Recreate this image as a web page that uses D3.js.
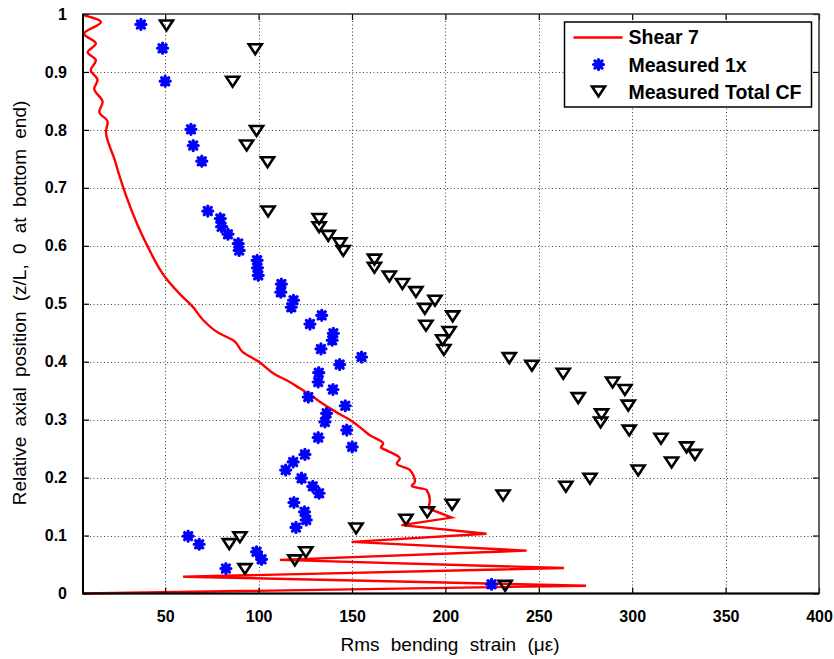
<!DOCTYPE html>
<html>
<head>
<meta charset="utf-8">
<script src="https://cdn.jsdelivr.net/npm/d3@7"></script>
<style>
    body { margin: 0; background: #fff; }
    svg { display: block; font-family: "Liberation Sans", Arial, sans-serif; }
</style>
</head>
<body>
<div id="chart"></div>
<script>
// Shear 7 prediction from top to bottom (smooth part, then the spikes)
var shearStrain = [6.1, 15.6, 6.6, 12.9, 8.5, 12.9, 10.2, 13.8, 12.0, 16.5, 14.7, 19.2, 18.3, 20.0, 22.7, 25.4,
    29.0, 35.2, 40.6, 50.4, 57.5, 64.7, 70.3, 78.9, 86.4, 91.4, 100.5, 109.3, 115, 122.1, 129.2, 135, 140,
    150.6, 155, 159.6, 166.7, 165.5, 168.5, 175.6, 174, 181, 183.7, 182, 189.9, 191.7, 190.8];
var shearPos = [0.998, 0.986, 0.966, 0.949, 0.934, 0.920, 0.903, 0.886, 0.871, 0.848, 0.831, 0.814, 0.796, 0.774, 0.751, 0.722,
    0.687, 0.636, 0.599, 0.544, 0.518, 0.495, 0.472, 0.449, 0.437, 0.417, 0.399, 0.377, 0.368, 0.354, 0.339, 0.326, 0.316,
    0.296, 0.285, 0.273, 0.259, 0.252, 0.247, 0.233, 0.224, 0.213, 0.193, 0.185, 0.179, 0.161, 0.147];
var spikeStrain = [190.8, 203.3, 176.5, 222.0, 149.8, 243.5, 111.4, 263.5, 59.6, 275.3, 6];
var spikePos = [0.147, 0.131, 0.118, 0.103, 0.089, 0.074, 0.058, 0.044, 0.029, 0.0135, 0.0];

// Measured 1x
var strain1x = [37, 48.6, 50, 63.8, 65, 69.6, 72.8, 79.5, 80.2, 83.6, 89.1, 89.6, 99.2, 99.4, 99.8, 112.2, 111.9,
    118.7, 117.5, 127.5, 133.8, 140, 139.4, 133.4, 155.1, 143.4, 132.2, 131.9, 139.8, 126.6, 146.4, 136.4, 135.5,
    147.2, 131.9, 150.1, 124.8, 118.5, 114.5, 123, 129, 132.4, 118.9, 124.6, 125.5, 120, 62.3, 68.2, 98.9, 101.6,
    82.5, 224.7];
var pos1x = [0.982, 0.941, 0.884, 0.801, 0.773, 0.746, 0.660, 0.647, 0.633, 0.620, 0.604, 0.592, 0.575, 0.562, 0.549, 0.534, 0.520,
    0.506, 0.494, 0.465, 0.480, 0.449, 0.437, 0.422, 0.408, 0.395, 0.381, 0.365, 0.352, 0.339, 0.324, 0.311, 0.296,
    0.282, 0.269, 0.253, 0.240, 0.227, 0.213, 0.199, 0.185, 0.173, 0.157, 0.141, 0.127, 0.114, 0.099, 0.085, 0.072, 0.059,
    0.043, 0.016];

// Measured Total CF
var strainCF = [50.7, 98.2, 86.1, 98.9, 93.6, 104.8, 105.1, 132.4, 132.4, 137.3, 143.5, 145.3, 162, 162, 170, 177, 184.2,
    194.4, 189, 203.9, 189.6, 202, 198.5, 199.2, 234.2, 246.3, 263.1, 289.5, 296.1, 271.1, 297.9, 283.6, 283.1, 298.4,
    315.4, 329.1, 333.6, 321.1, 303.2, 277.4, 264.5, 230.9, 203.6, 190.3, 178.9, 152.2, 90, 84.3, 125.3, 119.4, 92.7, 232];
var posCF = [0.981, 0.940, 0.884, 0.799, 0.774, 0.745, 0.660, 0.647, 0.633, 0.618, 0.605, 0.592, 0.577, 0.563, 0.548, 0.535, 0.521,
    0.506, 0.492, 0.479, 0.463, 0.452, 0.438, 0.421, 0.407, 0.394, 0.380, 0.365, 0.352, 0.338, 0.325, 0.310, 0.296, 0.282,
    0.268, 0.253, 0.240, 0.227, 0.213, 0.199, 0.185, 0.170, 0.154, 0.141, 0.128, 0.113, 0.098, 0.086, 0.072, 0.058, 0.043, 0.014];

var xTicks = [50, 100, 150, 200, 250, 300, 350, 400];
var yTicks = [0, 0.1, 0.2, 0.3, 0.4, 0.5, 0.6, 0.7, 0.8, 0.9, 1];
var yTickLabels = ["0", "0.1", "0.2", "0.3", "0.4", "0.5", "0.6", "0.7", "0.8", "0.9", "1"];

var width = 834, height = 659;
var plot = { left: 83, right: 819, top: 14, bottom: 593.5 };

var x = d3.scaleLinear().domain([6, 400]).range([plot.left, plot.right]);
var y = d3.scaleLinear().domain([0, 1]).range([plot.bottom, plot.top]);

var svg = d3.select("#chart").append("svg")
    .attr("width", width)
    .attr("height", height);

// dotted grid
var grid = svg.append("g").attr("class", "grid")
    .attr("stroke", "#444").attr("stroke-width", 1).attr("stroke-dasharray", "1,2.5");
grid.selectAll("line.gx").data(xTicks.slice(0, -1)).enter().append("line")
    .attr("x1", function(d) { return Math.round(x(d)) + 0.5; })
    .attr("x2", function(d) { return Math.round(x(d)) + 0.5; })
    .attr("y1", plot.top).attr("y2", plot.bottom);
grid.selectAll("line.gy").data(yTicks.slice(1, -1)).enter().append("line")
    .attr("y1", function(d) { return Math.round(y(d)) + 0.5; })
    .attr("y2", function(d) { return Math.round(y(d)) + 0.5; })
    .attr("x1", plot.left).attr("x2", plot.right);

// Shear 7 line: smooth upper part, sharp spikes near the bottom
var smoothLine = d3.line()
    .curve(d3.curveMonotoneY)
    .x(function(d) { return x(shearStrain[d]); })
    .y(function(d) { return y(shearPos[d]); });
var spikeLine = d3.line()
    .x(function(d) { return x(spikeStrain[d]); })
    .y(function(d) { return y(spikePos[d]); });
svg.append("path")
    .datum(d3.range(shearStrain.length))
    .attr("d", smoothLine)
    .attr("fill", "none")
    .attr("stroke", "#f00")
    .attr("stroke-width", 2.4)
    .attr("stroke-linejoin", "round");
svg.append("path")
    .datum(d3.range(spikeStrain.length))
    .attr("d", spikeLine)
    .attr("fill", "none")
    .attr("stroke", "#f00")
    .attr("stroke-width", 2.4)
    .attr("stroke-linejoin", "miter");

var starPath = "M-5,0H5M0,-5V5M-3.6,-3.6L3.6,3.6M-3.6,3.6L3.6,-3.6";
var triPath = "M-6.5,-4.5L6.5,-4.5L0,5.4Z";

svg.append("g").selectAll("path").data(d3.range(strain1x.length)).enter().append("path")
    .attr("transform", function(d) { return "translate(" + x(strain1x[d]) + "," + y(pos1x[d]) + ")"; })
    .attr("d", starPath)
    .attr("stroke", "#00f")
    .attr("stroke-width", 3.2)
    .attr("stroke-linecap", "round");

svg.append("g").selectAll("path").data(d3.range(strainCF.length)).enter().append("path")
    .attr("transform", function(d) { return "translate(" + x(strainCF[d]) + "," + y(posCF[d]) + ")"; })
    .attr("d", triPath)
    .attr("fill", "none")
    .attr("stroke", "#000")
    .attr("stroke-width", 2.6)
    .attr("stroke-linejoin", "miter");

// axes, ticks pointing inward
var axisFont = function(g) {
    g.select(".domain").remove();
    g.selectAll(".tick line").attr("stroke", "#000").attr("stroke-width", 1.2);
    g.selectAll("text")
        .attr("fill", "#000")
        .attr("font-size", "16px")
        .attr("font-weight", "bold")
        .attr("font-family", "'Liberation Sans', Arial, sans-serif");
};

svg.append("g")
    .attr("transform", "translate(0," + plot.bottom + ")")
    .call(d3.axisBottom(x).tickValues(xTicks).tickSize(-6).tickPadding(17).tickFormat(d3.format("d")))
    .call(axisFont);
svg.append("g")
    .attr("transform", "translate(0," + plot.top + ")")
    .call(d3.axisTop(x).tickValues(xTicks).tickSize(-6).tickFormat(""))
    .call(axisFont);
svg.append("g")
    .attr("transform", "translate(" + plot.left + ",0)")
    .call(d3.axisLeft(y).tickValues(yTicks).tickSize(-6).tickPadding(16)
        .tickFormat(function(d, i) { return yTickLabels[i]; }))
    .call(axisFont);
svg.append("g")
    .attr("transform", "translate(" + plot.right + ",0)")
    .call(d3.axisRight(y).tickValues(yTicks).tickSize(-6).tickFormat(""))
    .call(axisFont);

// frame
svg.append("rect")
    .attr("x", plot.left).attr("y", plot.top)
    .attr("width", plot.right - plot.left).attr("height", plot.bottom - plot.top)
    .attr("fill", "none").attr("stroke", "#333").attr("stroke-width", 1.5);
svg.append("path")
    .attr("d", "M" + plot.left + "," + plot.top + "V" + plot.bottom + "H" + plot.right)
    .attr("fill", "none").attr("stroke", "#000").attr("stroke-width", 2);

// axis titles
svg.append("text")
    .attr("x", 450).attr("y", 651)
    .attr("text-anchor", "middle")
    .attr("font-size", "19px")
    .attr("word-spacing", "6px")
    .text("Rms bending strain (\u03bc\u03b5)");
svg.append("text")
    .attr("transform", "translate(26,303) rotate(-90)")
    .attr("text-anchor", "middle")
    .attr("font-size", "19px")
    .attr("word-spacing", "5px")
    .text("Relative axial position (z/L, 0 at bottom end)");

// legend
var legend = svg.append("g").attr("transform", "translate(564.5,22)");
legend.append("rect")
    .attr("width", 247).attr("height", 85)
    .attr("fill", "#fff").attr("stroke", "#000").attr("stroke-width", 1.5);
legend.append("line")
    .attr("x1", 9).attr("x2", 58).attr("y1", 15.5).attr("y2", 15.5)
    .attr("stroke", "#f00").attr("stroke-width", 2.4);
legend.append("path")
    .attr("transform", "translate(34,42.5)")
    .attr("d", starPath).attr("stroke", "#00f").attr("stroke-width", 3.2).attr("stroke-linecap", "round");
legend.append("path")
    .attr("transform", "translate(34,69)")
    .attr("d", triPath).attr("fill", "none").attr("stroke", "#000").attr("stroke-width", 2.6);
var legendLabels = ["Shear 7", "Measured 1x", "Measured Total CF"];
legend.selectAll("text.lbl").data(legendLabels).enter().append("text")
    .attr("x", 64)
    .attr("y", function(d, i) { return 22 + i * 27.5; })
    .attr("font-size", "19.5px")
    .attr("font-weight", "bold")
    .text(function(d) { return d; });
</script>
</body>
</html>
